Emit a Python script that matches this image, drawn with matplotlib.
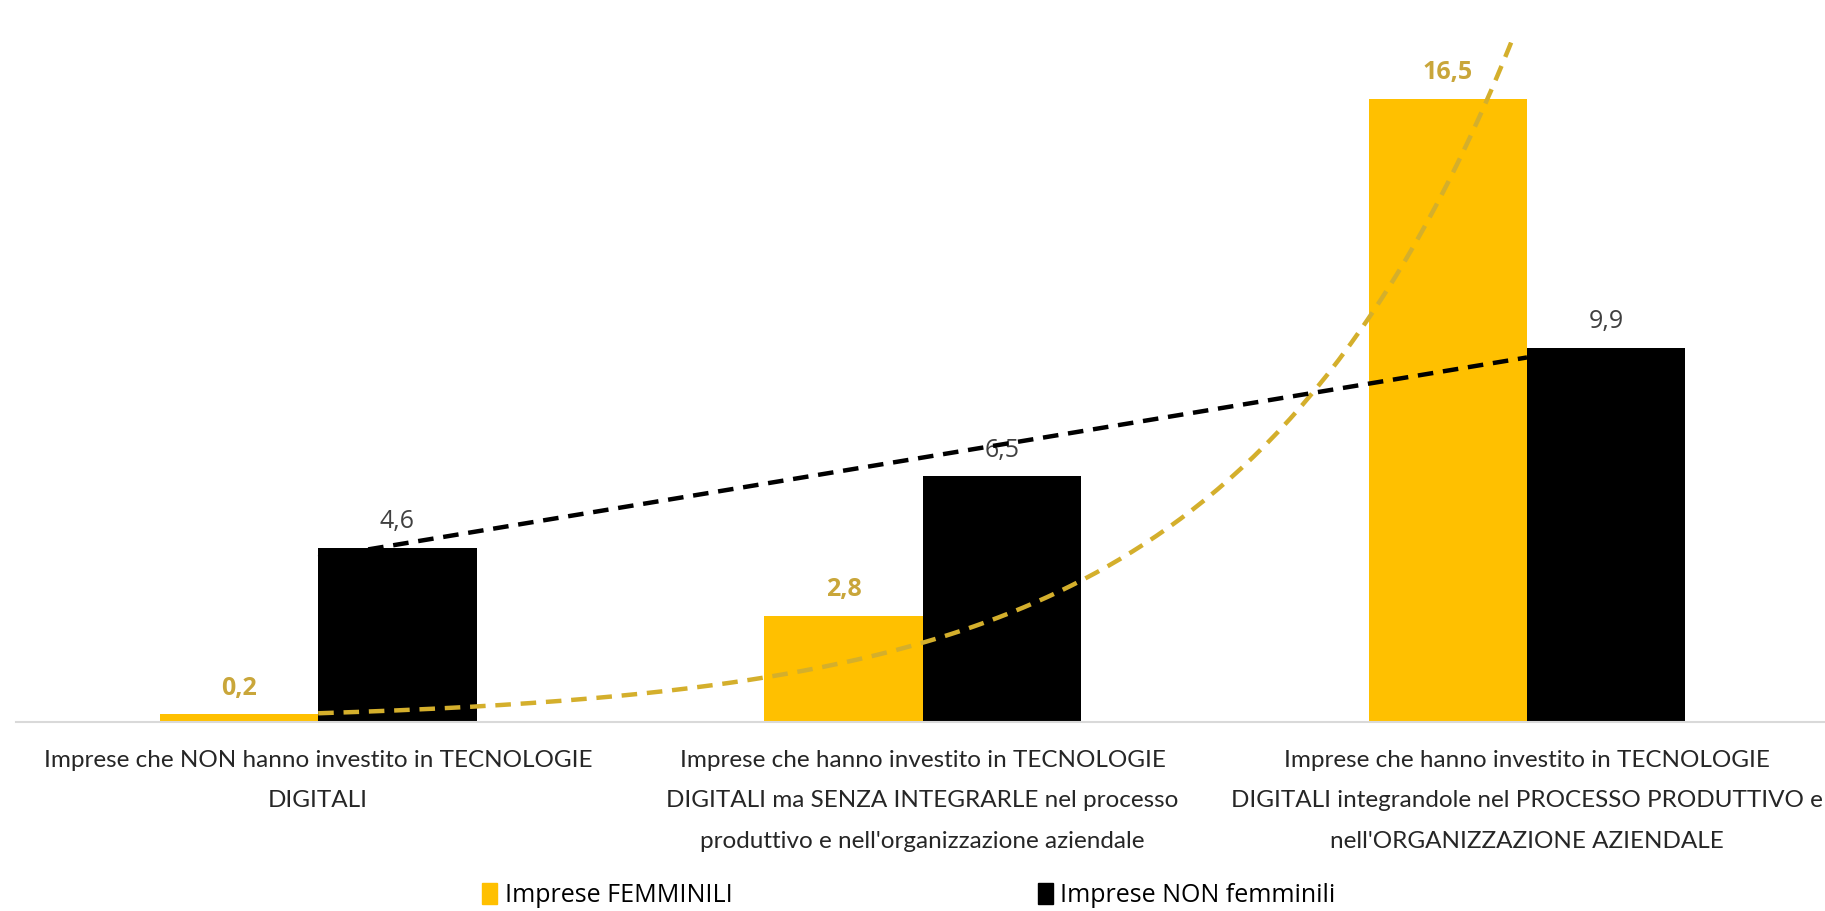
import numpy as np
import matplotlib
matplotlib.use("Agg")
import matplotlib.pyplot as plt
from matplotlib.patches import Patch

# data
categories = [
    "Imprese che NON hanno investito in TECNOLOGIE\nDIGITALI",
    "Imprese che hanno investito in TECNOLOGIE\nDIGITALI ma SENZA INTEGRARLE nel processo\nproduttivo e nell'organizzazione aziendale",
    "Imprese che hanno investito in TECNOLOGIE\nDIGITALI integrandole nel PROCESSO PRODUTTIVO e\nnell'ORGANIZZAZIONE AZIENDALE",
]
series_names = ["Imprese FEMMINILI", "Imprese NON femminili"]
femminili = [0.2, 2.8, 16.5]
non_femminili = [4.6, 6.5, 9.9]

yellow = "#FFC000"
black = "#000000"
label_yellow = "#C9A63A"
trend_yellow = "#D4AF2C"

fig = plt.figure(figsize=(18.25, 9.11), dpi=100)
ax = fig.add_axes([16 / 1825, 189 / 911, 1809 / 1825, 680 / 911])

x = np.arange(len(categories))
w = 0.262

ax.bar(x - w / 2, femminili, w, color=yellow, label=series_names[0], zorder=2)
ax.bar(x + w / 2, non_femminili, w, color=black, label=series_names[1], zorder=2)

# data labels
for xi, v in zip(x, femminili):
    ax.annotate(f"{v:.1f}".replace(".", ","), (xi - w / 2, v), xytext=(0, 10),
                textcoords="offset points", ha="center", va="bottom",
                fontsize=18, fontweight="bold", color=label_yellow, family="Open Sans")
for xi, v in zip(x, non_femminili):
    ax.annotate(f"{v:.1f}".replace(".", ","), (xi + w / 2, v), xytext=(0, 10),
                textcoords="offset points", ha="center", va="bottom",
                fontsize=18, color="#404040", family="Open Sans")

# trend lines (Excel-style): exponential for femminili, linear for non femminili
xt = np.linspace(0, 2, 200)
k, c = np.polyfit(x, np.log(femminili), 1)
ax.plot(xt, np.exp(c + k * xt), color=trend_yellow, lw=3.2, ls=(0, (3.5, 2.2)), zorder=3)
m, q = np.polyfit(x, non_femminili, 1)
ax.plot(xt, q + m * xt, color=black, lw=3.2, ls=(0, (3.5, 2.2)), zorder=3)

ax.set_xlim(-0.5, 2.493)
ax.set_ylim(0, 18)
ax.set_yticks([])
ax.set_xticks(x)
ax.set_xticklabels(categories, fontsize=17.5, family="Lato", color="#262626",
                   linespacing=2.15)
ax.tick_params(axis="x", length=0, pad=20)
for s in ["top", "right", "left"]:
    ax.spines[s].set_visible(False)
ax.spines["bottom"].set_color("#D9D9D9")
ax.spines["bottom"].set_linewidth(1.5)

handles = [Patch(color=yellow), Patch(color=black)]
fig.legend(handles, series_names, loc="center", bbox_to_anchor=(0.498, 0.017), ncol=2,
           frameon=False, prop={"family": "Open Sans", "size": 18},
           handlelength=0.6, handleheight=0.9, handletextpad=0.3, columnspacing=12.2)

fig.savefig("out.png", dpi=100)
